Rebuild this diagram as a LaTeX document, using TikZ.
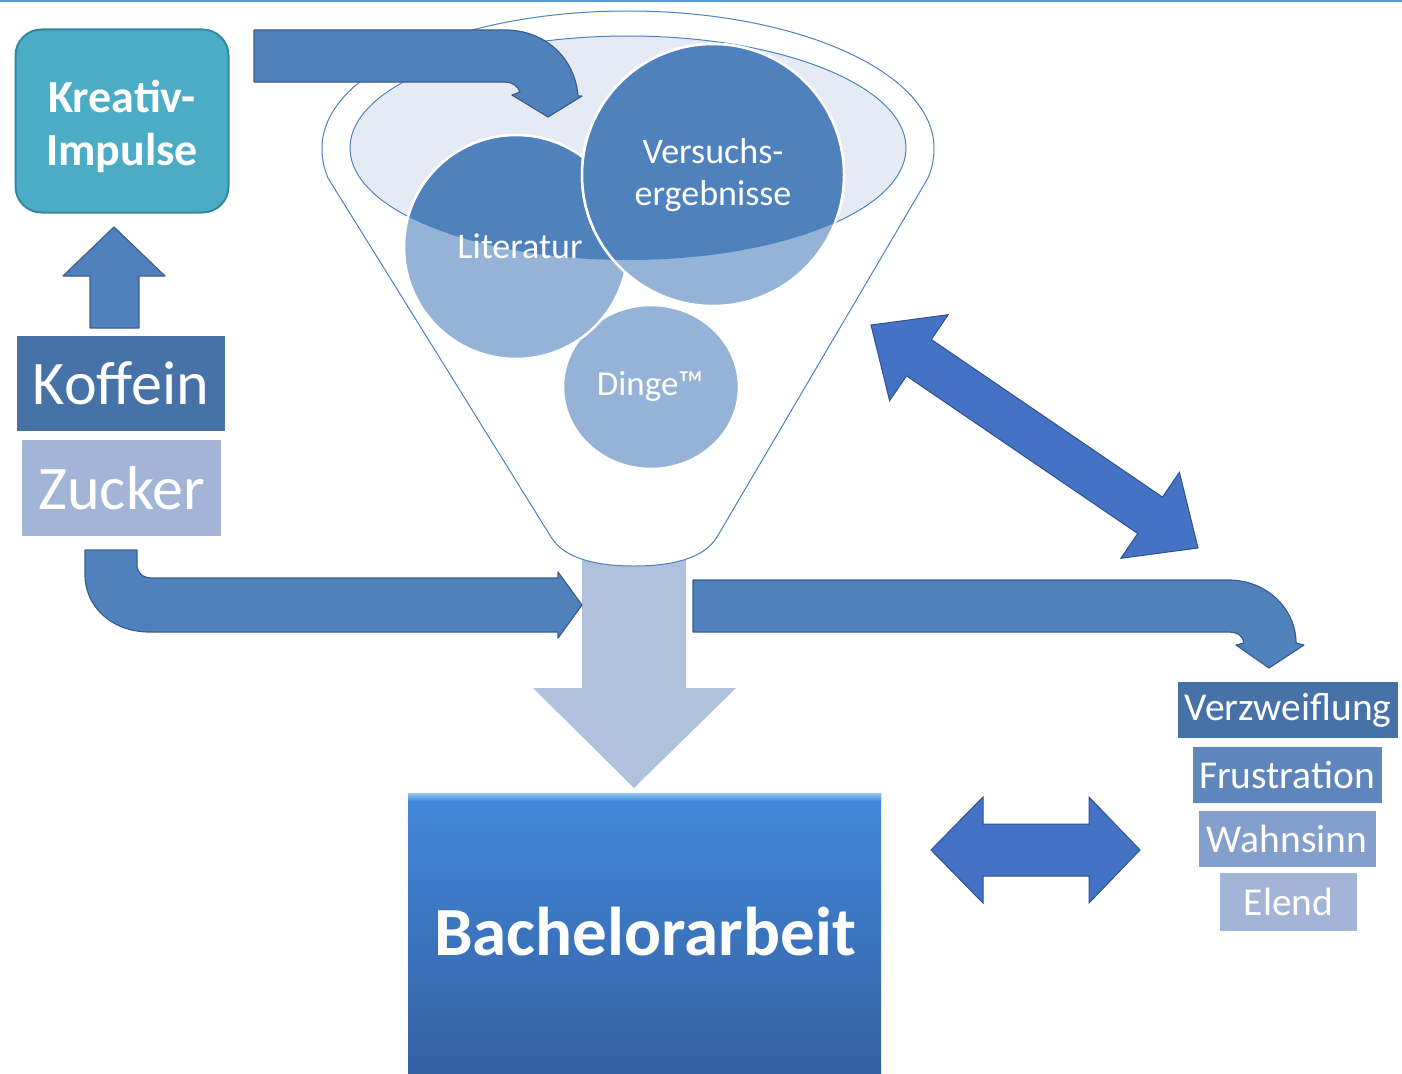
\documentclass[tikz,border=0pt]{standalone}
\usepackage{fontspec}
\setmainfont{Carlito}
\usetikzlibrary{shapes.geometric}
\definecolor{arrowblue}{HTML}{4F81BD}
\definecolor{arrowedge}{HTML}{3A5F8F}
\definecolor{dblblue}{HTML}{4472C4}
\definecolor{dbledge}{HTML}{2F528F}
\definecolor{kteal}{HTML}{4BACC6}
\definecolor{ktealedge}{HTML}{33889E}
\definecolor{listA}{HTML}{4672A8}
\definecolor{listB}{HTML}{5F85BD}
\definecolor{listC}{HTML}{839FCB}
\definecolor{listD}{HTML}{A2B5D7}
\definecolor{circDark}{HTML}{4F81BD}
\definecolor{circLight}{HTML}{95B3D7}
\definecolor{mouthFill}{HTML}{E5EBF5}
\definecolor{funnelEdge}{HTML}{4F81BD}
\definecolor{stemBlue}{HTML}{B0C1DD}
\definecolor{bachTop}{HTML}{4289DA}
\definecolor{bachBot}{HTML}{3460A2}
\definecolor{bevelTop}{HTML}{8CC8F8}
\definecolor{topLine}{HTML}{5B9BD5}
\tikzset{
  blockarrow/.style={fill=arrowblue, draw=arrowedge, line width=1.2pt, line join=round},
  dblarrow/.style={fill=dblblue, draw=dbledge, line width=1pt, line join=miter},
  listbox/.style={rectangle, inner sep=0pt, text=white},
  bigtext/.style={font=\fontsize{62}{74}\selectfont},
  smalltext/.style={font=\fontsize{39.5}{47}\selectfont},
  circtext/.style={text=white, align=center, font=\fontsize{36}{42}\selectfont},
  bubble/.style={fill=circLight, draw=white, line width=2.5pt, inner sep=0pt},
  funnelshape/.style={fill=white, draw=funnelEdge, line width=1pt},
  kreativbox/.style={rectangle, rounded corners=26pt, fill=kteal, draw=ktealedge,
    line width=2pt, minimum width=213pt, minimum height=183pt, inner sep=0pt},
  kreativtext/.style={text=white, align=center, inner sep=0pt,
    font=\bfseries\fontsize{46}{53}\selectfont},
  bachbox/.style={rectangle, inner sep=0pt, top color=bachTop, bottom color=bachBot,
    draw=none, minimum width=473pt, minimum height=280pt},
}
\begin{document}
\begin{tikzpicture}[x=1pt,y=-1pt]
\useasboundingbox (0,0) rectangle (1402,1073);
% top border line
\draw[topLine, line width=2.5pt] (0,1.2) -- (1402,1.2);

% stem arrow below funnel
\fill[stemBlue] (582,540) -- (686,540) -- (686,688) -- (736,688) -- (634,788)
  -- (533,688) -- (582,688) -- cycle;

% funnel outline
\draw[funnelshape] (322,148) .. controls (322,72) and (459,11) .. (628,11)
  .. controls (797,11) and (934,72) .. (934,148)
  .. controls (934,160) and (932,168) .. (928,178) -- (717,537)
  .. controls (703,560) and (668,566) .. (634,566)
  .. controls (600,566) and (565,560) .. (551,537) -- (328,178)
  .. controls (324,168) and (322,160) .. (322,148) -- cycle;

% funnel mouth
\draw[fill=mouthFill, draw=funnelEdge, line width=1pt] (628,148) ellipse [x radius=278pt, y radius=112pt];

% bubbles
\node[bubble, ellipse, minimum width=176pt, minimum height=164pt] (dinge) at (651,387) {};
\node[bubble, circle, minimum size=224pt] (lit) at (516,247) {};
\begin{scope}
  \clip (628,148) ellipse [x radius=278pt, y radius=112pt];
  \filldraw[fill=circDark, draw=white, line width=2.5pt] (lit.center) circle [radius=112pt];
\end{scope}
\node[bubble, circle, minimum size=262pt] (vers) at (713,175) {};
\begin{scope}
  \clip (628,148) ellipse [x radius=278pt, y radius=112pt];
  \filldraw[fill=circDark, draw=white, line width=2.5pt] (vers.center) circle [radius=131pt];
\end{scope}
\node[circtext] (littext) at (520,246) {Literatur};
\node[circtext] (verstext) at (713,175) {Versuchs-\\ergebnisse};
\node[circtext, font=\fontsize{35}{40}\selectfont] (dingetext) at (650,386) {Dinge™};

% top bent arrow into funnel
\draw[blockarrow] (254,30) -- (505,30) .. controls (545,30) and (575,58) .. (578,96)
  -- (582,96) -- (548,117) -- (512,95) -- (520,92)
  .. controls (518,86) and (512,82) .. (505,82) -- (254,82) -- cycle;

% Zucker bent arrow
\draw[blockarrow] (85,550) -- (137,550) -- (137,565)
  .. controls (137,573) and (143,578) .. (152,578) -- (558,578) -- (558,572)
  -- (582,605) -- (558,638) -- (558,632) -- (150,632)
  .. controls (110,632) and (85,605) .. (85,575) -- cycle;

% right bent arrow
\draw[blockarrow] (693,580) -- (1228,580) .. controls (1268,580) and (1296,610) .. (1296,643)
  -- (1304,645) -- (1269,668) -- (1236,645) -- (1244,643)
  .. controls (1243,636) and (1238,632) .. (1228,632) -- (693,632) -- cycle;

% up arrow
\draw[blockarrow] (90,328) -- (90,276) -- (63,276) -- (114,227) -- (165,276)
  -- (139,276) -- (139,328) -- cycle;

% diagonal double arrow
\draw[dblarrow] (871,325) -- (889.6,400.7) -- (906.5,375.9) -- (1137.7,533.5)
  -- (1120.8,558.3) -- (1198,548) -- (1179.4,472.3) -- (1162.5,497.1)
  -- (931.3,339.5) -- (948.2,314.7) -- cycle;

% horizontal double arrow
\draw[dblarrow] (931,850) -- (983,797) -- (983,824) -- (1089,824) -- (1089,797)
  -- (1140,850) -- (1089,903) -- (1089,876) -- (983,876) -- (983,903) -- cycle;

% boxes
\node[kreativbox] (kreativ) at (122,121) {};
\node[kreativtext] (kreativlabel) at (122,126) {Kreativ-\\Impulse};
\node[listbox, bigtext, fill=listA, minimum width=208pt, minimum height=95pt] (koffein) at (121,383.5) {Koffein};
\node[listbox, bigtext, fill=listD, minimum width=199pt, minimum height=96pt] (zucker) at (121.5,488) {Zucker};

\node[listbox, smalltext, fill=listA, minimum width=220pt, minimum height=56pt] (verz) at (1288,710) {Verzweiflung};
\node[listbox, smalltext, fill=listB, minimum width=189pt, minimum height=56pt] (frust) at (1287,775) {Frustration};
\node[listbox, smalltext, fill=listC, minimum width=177pt, minimum height=56pt] (wahn) at (1287,839) {Wahnsinn};
\node[listbox, smalltext, fill=listD, minimum width=137pt, minimum height=58pt] (elend) at (1288.5,902) {Elend};

% Bachelorarbeit
\node[bachbox] (bach) at (644.5,933) {};
\fill[top color=bevelTop, bottom color=bachTop] (408,793) rectangle (881,801);
\node[text=white, font=\bfseries\fontsize{69}{80}\selectfont] (bachtext) at (645,932) {Bachelorarbeit};
\end{tikzpicture}
\end{document}
